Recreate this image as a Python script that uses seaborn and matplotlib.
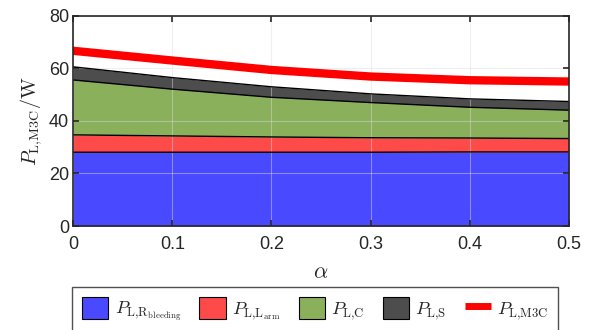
import numpy as np
import pandas as pd
import matplotlib
matplotlib.use("Agg")
import matplotlib.pyplot as plt
import seaborn as sns
from matplotlib.patches import Patch
from matplotlib.lines import Line2D

# values (W)
alpha = [0.0, 0.1, 0.2, 0.3, 0.4, 0.5]
p_bleed = [28.1, 28.1, 28.1, 28.1, 28.2, 28.2]
p_arm = [6.6, 6.2, 5.8, 5.5, 5.3, 5.1]
p_c = [20.9, 17.8, 15.1, 13.4, 11.7, 10.8]
p_s = [5.0, 4.4, 4.0, 3.3, 3.2, 3.3]
p_m3c = [66.7, 63.0, 59.4, 56.9, 55.5, 55.0]

labels = [r"$P_{\mathrm{L{,}R_{bleeding}}}$", r"$P_{\mathrm{L{,}L_{arm}}}$",
          r"$P_{\mathrm{L{,}C}}$", r"$P_{\mathrm{L{,}S}}$", r"$P_{\mathrm{L{,}M3C}}$"]
colors = ["#4949FF", "#FF4A4A", "#8AB05C", "#4D4D4D"]

sns.set_theme(style="whitegrid")
plt.rcParams["font.family"] = ["Liberation Sans", "DejaVu Sans"]
plt.rcParams["mathtext.fontset"] = "cm"
plt.rcParams.update({
    "xtick.bottom": True, "xtick.top": True, "ytick.left": True, "ytick.right": True,
    "xtick.direction": "in", "ytick.direction": "in",
    "xtick.major.size": 4, "ytick.major.size": 4,
    "xtick.major.width": 1.2, "ytick.major.width": 1.2,
    "xtick.color": "#262626", "ytick.color": "#262626",
})

df = pd.DataFrame({"alpha": alpha, "m3c": p_m3c})

fig, ax = plt.subplots(figsize=(5.94, 3.30), dpi=100)
fig.subplots_adjust(left=0.123, right=0.958, top=0.952, bottom=0.315)

layers = np.vstack([p_bleed, p_arm, p_c, p_s])
tops = np.cumsum(layers, axis=0)
bottom = np.zeros(len(alpha))
for top, col in zip(tops, colors):
    ax.fill_between(alpha, bottom, top, color=col, lw=0, zorder=2)
    ax.plot(alpha, top, color="black", lw=1.0, zorder=3)
    bottom = top

sns.lineplot(data=df, x="alpha", y="m3c", color="#FF0000", lw=6, ax=ax, zorder=4)

ax.set_xlim(0, 0.5)
ax.set_ylim(0, 80)
ax.set_xticks([0, 0.1, 0.2, 0.3, 0.4, 0.5])
ax.set_xticklabels(["0", "0.1", "0.2", "0.3", "0.4", "0.5"])
ax.set_yticks([0, 20, 40, 60, 80])
ax.grid(True, color="#DDDDDD", lw=0.8)
ax.set_axisbelow(False)
for gl in ax.get_xgridlines() + ax.get_ygridlines():
    gl.set_zorder(2.5)
    gl.set_alpha(0.45)
ax.tick_params(labelcolor="#262626", labelsize=13)
ax.tick_params(axis="x", pad=7)
ax.tick_params(axis="y", pad=3)
for t in ax.xaxis.get_major_ticks() + ax.yaxis.get_major_ticks():
    t.tick1line.set_zorder(7)
    t.tick2line.set_zorder(7)
for s in ax.spines.values():
    s.set_color("#262626")
    s.set_linewidth(1.2)
    s.set_zorder(6)

ax.set_xlabel(r"$\alpha$", fontsize=16, color="#262626", labelpad=7)
ax.set_ylabel(r"$P_{\mathrm{L{,}M3C}}/\mathrm{W}$", fontsize=14.5, color="#262626", labelpad=3)

handles = [Patch(facecolor=c, edgecolor="black", lw=0.8) for c in colors]
handles.append(Line2D([], [], color="#FF0000", lw=5, solid_capstyle="butt"))
leg = fig.legend(handles, labels, loc="lower center", ncol=5,
                 bbox_to_anchor=(0.531, -0.01),
                 fontsize=13, frameon=True, fancybox=False, edgecolor="#262626",
                 handlelength=1.45, handleheight=1.45, handletextpad=0.35,
                 columnspacing=1.0, borderpad=0.55, borderaxespad=0)
leg.get_frame().set_linewidth(1.0)

fig.savefig("out.png", dpi=100)
